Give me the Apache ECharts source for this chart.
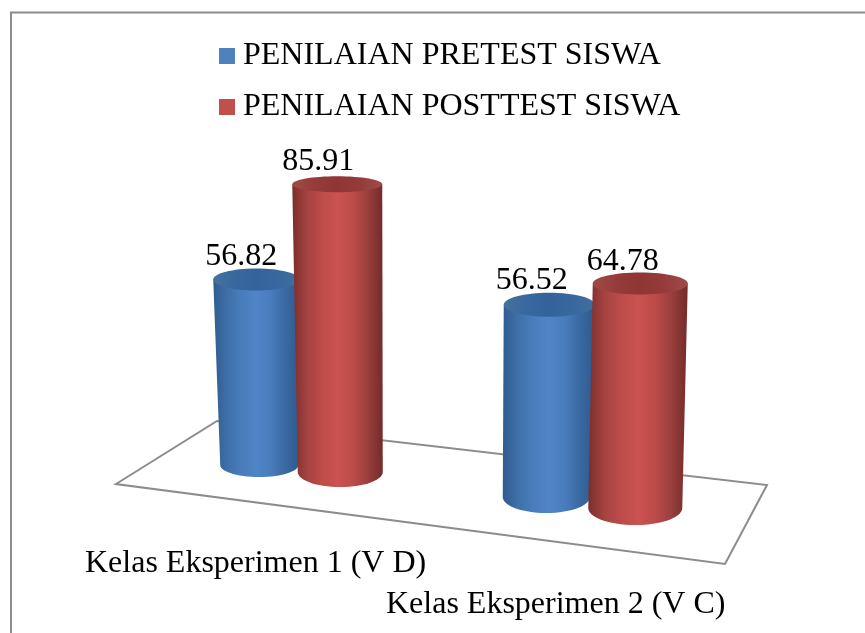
<!DOCTYPE html>
<html>
<head>
<meta charset="utf-8">
<style>html,body{margin:0;padding:0;background:#fff}#chart{width:865px;height:633px}</style>
<script src="https://cdn.jsdelivr.net/npm/echarts@6/dist/echarts.min.js"></script>
</head>
<body>
<div id="chart"></div>
<script>
// data
const categories = ['Kelas Eksperimen 1 (V D)', 'Kelas Eksperimen 2 (V C)']
const pretest = [56.82, 56.52]
const posttest = [85.91, 64.78]
const seriesNames = ['PENILAIAN PRETEST SISWA', 'PENILAIAN POSTTEST SISWA']

// fake 3d look: each cylinder is nudged and scaled a bit from its axis position
const pretestLook = [
  { dx: -20, dy: -20, k: 0.975, lean: 3, topW: 86, baseW: 78, topRy: 11, baseRy: 12, labelDx: -15, labelDy: -23 },
  { dx: -39.5, dy: 12, k: 1.015, lean: -3, topW: 91, baseW: 87, topRy: 12, baseRy: 16, labelDx: -17.5, labelDy: -24 }
]
const posttestLook = [
  { dx: 61, dy: -13, k: 1, lean: 3, topW: 90, baseW: 85, topRy: 8, baseRy: 15, labelDx: -19, labelDy: -23 },
  { dx: 51.5, dy: 23, k: 1.035, lean: -5, topW: 95, baseW: 94, topRy: 11, baseRy: 17, labelDx: -17.5, labelDy: -22 }
]

const FONT = '"Liberation Serif", "Times New Roman", serif'

function shade(stops) {
  return {
    type: 'linear', x: 0, y: 0, x2: 1, y2: 0,
    colorStops: stops.map((c, i) => ({ offset: i / (stops.length - 1), color: c }))
  }
}

const blueSide = shade(['#2f5c90', '#3f70a8', '#4a7dbd', '#4f84c8', '#4a7dbd', '#3a6aa2', '#2d5a8e'])
const redSide = shade(['#7c2e2c', '#a54341', '#bd4c4a', '#cb5250', '#bd4c4a', '#9a3f3d', '#732b29'])
const blueTop = shade(['#46719f', '#38689e', '#33639a', '#38689e', '#426e9f'])
const redTop = shade(['#a04a48', '#953c3a', '#8f3634', '#953c3a', '#a04a48'])

function cylinder(look, sideFill, topFill) {
  return function (params, api) {
    const cat = api.value(0)
    const val = api.value(1)
    const zero = api.coord([cat, 0])
    const top = api.coord([cat, val])
    const s = look[cat]
    const cx = zero[0] + s.dx
    const by = zero[1] + s.dy
    const ty = by - (zero[1] - top[1]) * s.k
    const pts = [[cx - s.topW / 2, ty], [cx + s.topW / 2, ty]]
    for (let a = 0; a <= 180; a += 6) {
      const r = a * Math.PI / 180
      pts.push([cx + s.lean + Math.cos(r) * s.baseW / 2, by + Math.sin(r) * s.baseRy])
    }
    return {
      type: 'group',
      children: [
        { type: 'polygon', shape: { points: pts }, style: { fill: sideFill } },
        { type: 'ellipse', shape: { cx: cx, cy: ty, rx: s.topW / 2, ry: s.topRy }, style: { fill: topFill } },
        {
          type: 'text', z2: 50,
          style: {
            x: cx + s.labelDx, y: ty + s.labelDy, text: val.toFixed(2),
            fill: '#000', font: '32px ' + FONT, align: 'center', verticalAlign: 'middle'
          }
        }
      ]
    }
  }
}

const chart = echarts.init(document.getElementById('chart'), null, { renderer: 'canvas' })

chart.setOption({
  animation: false,
  backgroundColor: '#fff',
  legend: {
    orient: 'vertical', left: 214, top: 35, itemGap: 19,
    itemWidth: 16, itemHeight: 16, icon: 'rect',
    data: seriesNames,
    textStyle: { fontFamily: FONT, fontSize: 32, color: '#000', padding: [0, 0, 0, 3] }
  },
  grid: { left: 120, right: 120, top: 150, height: 335 },
  xAxis: { type: 'category', data: categories, show: false },
  yAxis: { type: 'value', min: 0, max: 100, show: false },
  graphic: [
    {
      type: 'polyline', z: 0, silent: true,
      shape: { points: [[11, 633], [11, 12.5], [865, 12.5]] },
      style: { fill: null, stroke: '#8c8c8c', lineWidth: 2 }
    },
    {
      type: 'polygon', z: 1, silent: true,
      shape: { points: [[116, 484], [217, 421], [767, 485], [725, 564]] },
      style: { fill: '#fff', stroke: '#8c8c8c', lineWidth: 2 }
    },
    {
      type: 'text', z: 3, left: 85, top: 548,
      style: { text: categories[0], font: '32px ' + FONT, fill: '#000' }
    },
    {
      type: 'text', z: 3, left: 386, top: 589,
      style: { text: categories[1], font: '32px ' + FONT, fill: '#000' }
    }
  ],
  series: [
    {
      name: seriesNames[0], type: 'custom',
      itemStyle: { color: '#4f81bd' },
      encode: { x: 0, y: 1 },
      data: pretest.map((v, i) => [i, v]),
      renderItem: cylinder(pretestLook, blueSide, blueTop)
    },
    {
      name: seriesNames[1], type: 'custom',
      itemStyle: { color: '#c0504d' },
      encode: { x: 0, y: 1 },
      data: posttest.map((v, i) => [i, v]),
      renderItem: cylinder(posttestLook, redSide, redTop)
    }
  ]
})
</script>
</body>
</html>
